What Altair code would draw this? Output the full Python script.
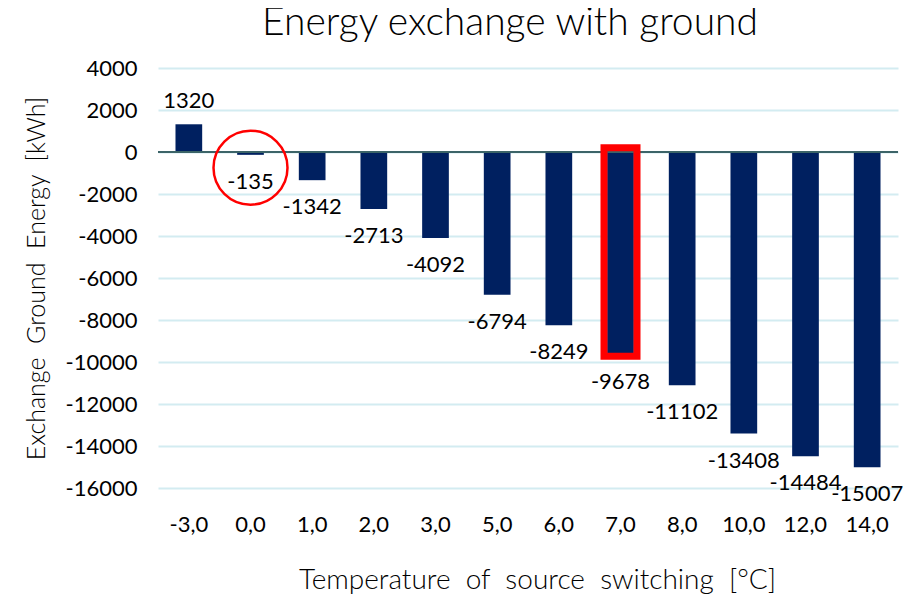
import altair as alt
import pandas as pd

temps = ["-3,0", "0,0", "1,0", "2,0", "3,0", "5,0", "6,0", "7,0", "8,0", "10,0", "12,0", "14,0"]
energy = [1320, -135, -1342, -2713, -4092, -6794, -8249, -9678, -11102, -13408, -14484, -15007]
y_ticks = [-16000, -14000, -12000, -10000, -8000, -6000, -4000, -2000, 0, 2000, 4000]

circle_cat = ["0,0"]
circle_y = [-748]
box_cat = ["7,0"]
box_top = [205]
box_bottom = [-9724]

df = pd.DataFrame({"temp": temps, "energy": energy})
df_circle = pd.DataFrame({"temp": circle_cat, "y": circle_y})
df_box = pd.DataFrame({"temp": box_cat, "top": box_top, "bottom": box_bottom})

FONT = "Lato"
SP = "\u00a0 "

x_enc = alt.X(
    "temp:N",
    sort=temps,
    scale=alt.Scale(paddingInner=0.567, paddingOuter=0.2835),
    axis=alt.Axis(
        title=SP.join(["Temperature", "of", "source", "switching", "[°C]"]),
        labelAngle=0,
        labelFontSize=22,
        labelPadding=26,
        labelFont=FONT,
        labelColor="#000000",
        ticks=False,
        domain=False,
        grid=False,
        titleFontSize=28,
        titleFont=FONT,
        titleFontWeight=300,
        titleColor="#000000",
        titlePadding=31,
        titleX=379,
    ),
)

y_scale = alt.Scale(domain=[-16000, 4000], nice=False, zero=False)

bars = alt.Chart(df).mark_bar(color="#002060").encode(
    x=x_enc,
    y=alt.Y(
        "energy:Q",
        scale=y_scale,
        axis=alt.Axis(
            title=SP.join(["Exchange", "Ground", "Energy", "[kWh]"]),
            values=y_ticks,
            labelExpr="toString(datum.value)",
            labelFontSize=22,
            labelFont=FONT,
            labelColor="#000000",
            labelPadding=21,
            ticks=False,
            domain=False,
            grid=True,
            gridColor="#d3ecf1",
            gridWidth=2,
            titleFontSize=25,
            titleFont=FONT,
            titleFontWeight=300,
            titleColor="#000000",
            titlePadding=16,
        ),
    ),
)

zero = alt.Chart(df).mark_rule(color="#3d6468", strokeWidth=1.5).encode(y=alt.datum(0))

base_lbl = alt.Chart(df).transform_calculate(lbl="toString(datum.energy)")

labels_neg = base_lbl.transform_filter("datum.energy < 0").mark_text(
    baseline="middle", dy=27, fontSize=22, font=FONT, color="#000000"
).encode(x=alt.X("temp:N", sort=temps), y=alt.Y("energy:Q", scale=y_scale), text="lbl:N")

labels_pos = base_lbl.transform_filter("datum.energy >= 0").mark_text(
    baseline="middle", dy=-23, fontSize=22, font=FONT, color="#000000"
).encode(x=alt.X("temp:N", sort=temps), y=alt.Y("energy:Q", scale=y_scale), text="lbl:N")

circle = alt.Chart(df_circle).mark_point(
    shape="circle", filled=False, size=5476, color="#ff0000", strokeWidth=2.5, opacity=1
).encode(x=alt.X("temp:N", sort=temps), y=alt.Y("y:Q", scale=y_scale))

box = alt.Chart(df_box).mark_bar(
    fillOpacity=0, stroke="#ff0000", strokeWidth=7, width=alt.RelativeBandSize(1.236)
).encode(x=alt.X("temp:N", sort=temps), y=alt.Y("top:Q", scale=y_scale), y2="bottom:Q")

chart = alt.layer(bars, zero, labels_neg, labels_pos, circle, box).properties(
    width=740,
    height=420,
    autosize=alt.AutoSizeParams(type="none"),
    padding={"left": 150, "top": 60, "right": 6, "bottom": 112},
    title=alt.TitleParams(
        "Energy exchange with ground",
        fontSize=39,
        font=FONT,
        fontWeight=300,
        color="#000000",
        anchor="middle",
        dx=-18,
        baseline="bottom",
        offset=-25,
    ),
).configure_view(stroke=None)

chart.save("out.html", embed_options={"renderer": "svg", "actions": False})
